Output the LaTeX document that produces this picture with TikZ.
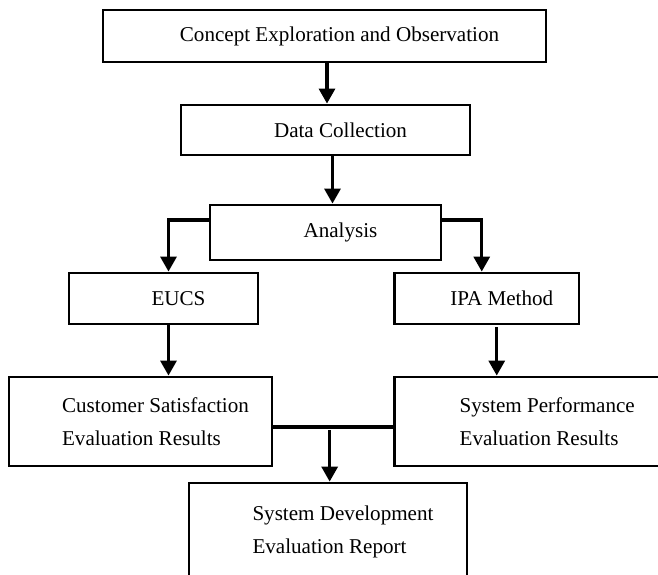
\documentclass[tikz,border=0pt]{standalone}
\usepackage{fontspec}
\setmainfont{Liberation Serif}
\usepackage{tikz}
\usetikzlibrary{
  arrows.meta,
  positioning,
  calc
}
\newcommand{\boxindent}{\hspace*{0.6cm}}

\begin{document}
\begin{tikzpicture}[
    >={Triangle[width=0.32cm,length=0.3cm]},
    box/.style={draw,line width=1.6pt,inner sep=0pt,align=left,
      font=\fontsize{12}{18.7}\selectfont},
    arr/.style={->,line width=1.8pt},
    link/.style={line width=1.8pt}
    ]
    
    \useasboundingbox (0,0) rectangle (13.16,-11.5);
    
    % Caixas
    \node[box,minimum width=8.86cm,minimum height=1.04cm]
    (concept) at (6.49,-0.72)
    {\boxindent Concept Exploration and Observation};
    
    \node[box,minimum width=5.78cm,minimum height=1.0cm]
    (data) at (6.51,-2.6)
    {\boxindent Data Collection};
    
    \node[box,minimum width=4.62cm,minimum height=1.1cm]
    (analysis) at (6.51,-4.65)
    {\boxindent Analysis};
    
    \node[box,minimum width=3.78cm,minimum height=1.02cm]
    (eucs) at (3.27,-5.97)
    {\boxindent EUCS};
    
    \node[box,minimum width=3.69cm,minimum height=1.02cm]
    (ipa) at (9.735,-5.97)
    {\boxindent IPA Method};
    
    \node[box,minimum width=5.26cm,minimum height=1.78cm]
    (customer) at (2.81,-8.43)
    {\boxindent Customer Satisfaction\\\boxindent Evaluation Results};
    
    \node[box,minimum width=5.51cm,minimum height=1.78cm]
    (sysperf) at (10.645,-8.43)
    {\boxindent System Performance\\\boxindent Evaluation Results};
    
    \node[box,minimum width=5.56cm,minimum height=1.94cm]
    (report) at (6.56,-10.63)
    {\boxindent System Development\\\boxindent Evaluation Report};
    
    % Setas
    \draw[arr] ([xshift=0.05cm]concept.south)
    -- ([xshift=0.05cm]concept.south |- data.north);
    
    \draw[arr] ([xshift=0.14cm]data.south)
    -- ([xshift=0.14cm]data.south |- analysis.north);
    
    \draw[arr] ([yshift=0.25cm]analysis.west)
    -| ([xshift=0.1cm]eucs.north);
    
    \draw[arr] ([yshift=0.25cm]analysis.east)
    -| ([xshift=-0.1cm]ipa.north);
    
    \draw[arr] ([xshift=0.1cm]eucs.south)
    -- ([xshift=0.1cm]eucs.south |- customer.north);
    
    \draw[arr] ([xshift=0.2cm,yshift=-0.04cm]ipa.south)
    -- ([xshift=0.2cm]ipa.south |- sysperf.north);
    
    % junção
    \draw[link] ([yshift=-0.11cm]customer.east)
    -- coordinate[pos=0.47] (join) ([yshift=-0.11cm]sysperf.west);
    
    \draw[arr] ([yshift=-0.06cm]join) -- (join |- report.north);
    
    \end{tikzpicture}
\end{document}
